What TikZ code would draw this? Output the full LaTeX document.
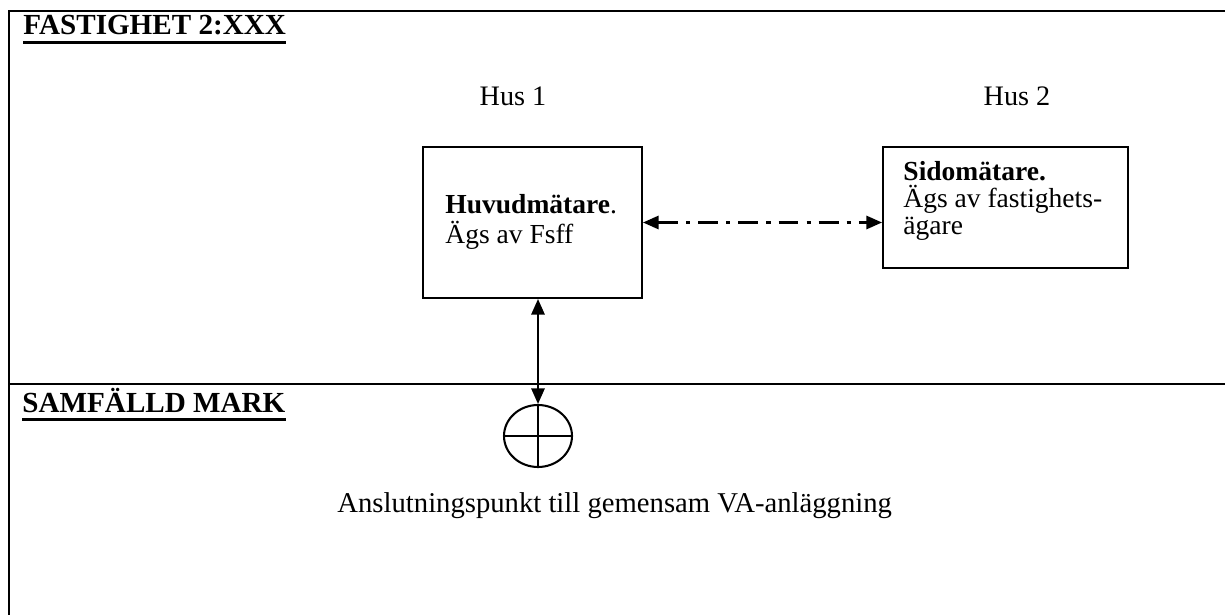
\documentclass[tikz,border=0pt]{standalone}
\usepackage{fontspec}
\setmainfont{Liberation Serif}
\usetikzlibrary{shapes.geometric,arrows.meta,positioning}
\newcommand{\pxu}{0.436pt}

\begin{document}
\begin{tikzpicture}[>={Triangle[length=6.8pt,width=5.8pt]},x=\pxu,y=-\pxu,font=\fontsize{12}{13}\selectfont]
	\tikzstyle{frame}=[line width=1.3pt]
	\tikzstyle{meter}=[draw=black,line width=0.9pt,inner sep=0]
	\tikzstyle{txt}=[inner sep=0]
	\tikzstyle{head}=[inner sep=0,font=\fontsize{12.7}{13}\selectfont\bfseries]
	\tikzstyle{uline}=[line width=1.2pt]
	\tikzstyle{link}=[<->,line width=0.9pt]
	\useasboundingbox (0,0) rectangle (1225,615);
	% frame
	\draw[frame] (1225,11) -- (9,11) -- (9,615);
	\draw[frame] (9,384) -- (1225,384);
	% headings
	\node[head,anchor=base west] (fast) at (23,35) {FASTIGHET 2:XXX};
	\node[head,anchor=base west] (samf) at (22,412) {SAMFÄLLD MARK};
	\draw[uline] ([yshift=-3.2pt]fast.base west) -- ([yshift=-3.2pt]fast.base east);
	\draw[uline] ([yshift=-3.2pt]samf.base west) -- ([yshift=-3.2pt]samf.base east);
	% houses
	\node[txt,anchor=base,font=\fontsize{12.3}{13}\selectfont] (hus1) at (513,106) {Hus 1};
	\node[txt,anchor=base,font=\fontsize{12.3}{13}\selectfont] (hus2) at (1017,106) {Hus 2};
	\node[meter,minimum width=219*\pxu,minimum height=151*\pxu] (b1) at (532.5,222.5) {};
	\node[meter,minimum width=245*\pxu,minimum height=121*\pxu] (b2) at (1005.5,207.5) {};
	\node[txt,anchor=north west,align=left] (t1) at (445,194) {\textbf{Huvudmätare}.\\Ägs av Fsff};
	\node[txt,anchor=north west,align=left,font=\fontsize{12}{11.8}\selectfont] (t2) at (903,161) {\textbf{Sidomätare.}\\Ägs av fastighets-\\ägare};
	% connection point
	\node[meter,ellipse,minimum width=68*\pxu,minimum height=62*\pxu] (va) at (538,436) {};
	\draw[line width=0.7pt] (va.north) -- (va.south) (va.west) -- (va.east);
	\node[txt,anchor=base west,font=\fontsize{12.5}{13}\selectfont] (anl) at (337,512) {Anslutningspunkt till gemensam VA-anläggning};
	% links
	\draw[link,dash pattern=on 8.7pt off 3.5pt on 1.8pt off 3.5pt] (b1.east) -- (b1.east -| b2.west);
	\draw[link] (b1.south -| va.north) -- (va.north);
\end{tikzpicture}
\end{document}
